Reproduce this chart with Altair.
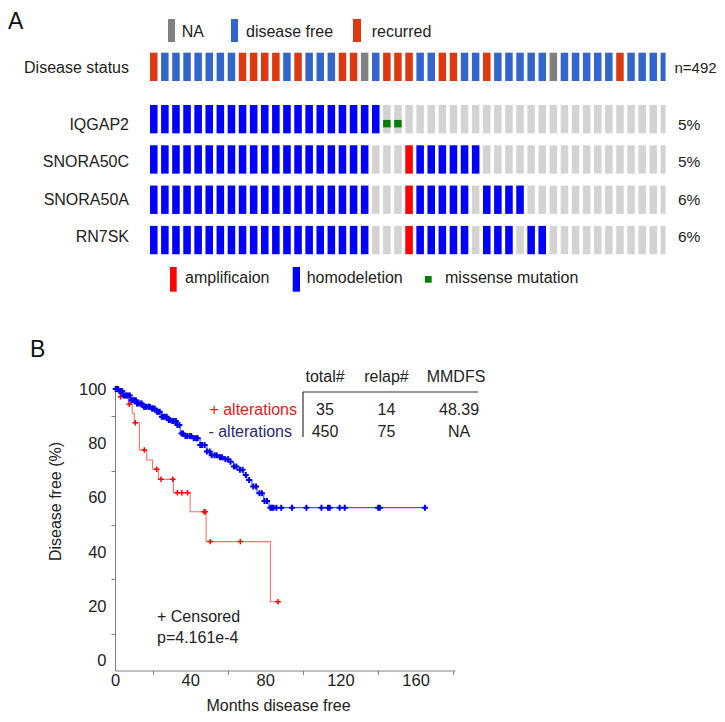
import altair as alt
import pandas as pd

FONT = "Liberation Sans"
TXT = "#222222"

# ---------------- Panel A : oncoprint data ----------------
disease_codes = ("R" "DDDDDDD" "RRRR" "D" "R" "DDD" "RR" "N" "D" "RRR" "DD" "RR" "DD"
                 "R" "DDDDD" "N" "DDDDD" "R" "DDDD")
status_name = {"R": "recurred", "D": "disease free", "N": "NA"}
status_domain = ["NA", "disease free", "recurred"]
status_colors = ["#808080", "#3366cc", "#dc3912"]
n_label = "n=492"

genes = ["IQGAP2", "SNORA50C", "SNORA50A", "RN7SK"]
gene_codes = {
    "IQGAP2":   "HHHHHHHHHH" "HHHHHHHHHH" "H" "MM" "........................",
    "SNORA50C": "HHHHHHHHHH" "HHHHHHHHHH" "..." "A" "HHHHHH" ".................",
    "SNORA50A": "HHHHHHHHHH" "HHHHHHHHHH" "..." "A" "HHHHH" "." "HHHH" ".............",
    "RN7SK":    "HHHHHHHHHH" "HHHHHHHHHH" "..." "A" "HHHHH" "." "HHH" "." "HH" "...........",
}
gene_pct = ["5%", "5%", "6%", "6%"]
alt_name = {"H": "homodeletion", "A": "amplificaion", "M": "missense mutation", ".": "none"}
alt_domain = ["amplificaion", "homodeletion"]
alt_colors = ["#ff0000", "#0000ff"]

for g in genes:
    assert len(gene_codes[g]) == len(disease_codes), (g, len(gene_codes[g]))

# ---------------- Panel B : Kaplan-Meier data ----------------
red_t = [0, 2.7, 7.1, 9.2, 10.3, 13.0, 16.9, 20.0, 23.1, 31.1, 40.0, 48.5, 82.7, 86.8]
red_s = [100, 97.2, 94.4, 91.1, 87.6, 77.6, 73.9, 70.5, 66.8, 61.9, 54.9, 43.9, 21.8, 21.8]
red_cens = [3.0, 7.6, 10.8, 15.6, 22.2, 24.5, 30.8, 33.2, 35.6, 38.6, 47.4, 48.0, 50.7, 66.7, 86.8]

blue_t = [0, 2.0, 4.4, 8.0, 11.6, 15.1, 18.7, 21.3, 24.9, 27.6, 30.2, 32.9, 34.7, 37.3,
          41.8, 45.3, 48.9, 50.7, 54.2, 57.8, 61.3, 63.1, 64.9, 68.4, 70.2, 72.9, 75.6,
          79.2, 82.0, 165.0]
blue_s = [100, 99.2, 97.6, 95.9, 94.7, 93.5, 92.9, 91.7, 89.8, 88.6, 88.3, 86.8, 83.7, 82.7,
          81.9, 79.4, 77.0, 75.7, 74.9, 74.2, 73.3, 71.5, 70.3, 68.4, 66.6, 64.2, 61.7,
          58.8, 56.4, 56.4]
blue_cens = [0.4, 1.1, 1.7, 2.4, 3.2, 3.9, 4.7, 5.6, 6.2, 7.0, 7.9, 8.7, 9.3, 10.2, 11.1,
             11.7, 12.6, 13.6, 14.2, 15.3, 16.0, 16.8, 17.9, 18.5, 19.6, 20.2, 21.1, 22.3,
             23.0, 23.8, 24.9, 25.6, 26.7, 27.5, 28.6, 29.4, 30.5, 31.3, 32.4, 33.2, 34.3,
             35.4, 36.2, 37.5, 38.4, 39.7, 40.6, 41.9, 43.1, 44.0, 45.4, 46.3, 47.7, 48.9,
             50.4, 51.5, 53.0, 54.1, 55.9, 57.0, 58.8, 60.2, 61.5, 63.3, 64.6, 66.5, 67.9,
             69.6, 71.4, 73.6, 75.1, 76.9, 78.2, 79.6, 80.9, 82.7, 83.6, 84.4, 85.9, 88.5,
             94.2, 101.9, 109.9, 113.4, 114.3, 119.6, 122.3, 140.1, 141.0, 165.0]

km_table_head = ["total#", "relap#", "MMDFS"]
km_row_plus = ["35", "14", "48.39"]
km_row_minus = ["450", "75", "NA"]


def surv_at(ts, ss, t):
    v = ss[0]
    for ti, si in zip(ts, ss):
        if ti <= t:
            v = si
    return v


# ---------------- helpers for text / decoration ----------------
def txt(s, x, y, size=16, color=TXT, align="left", baseline="middle"):
    return alt.Chart(pd.DataFrame({"s": [s]})).mark_text(
        align=align, baseline=baseline, fontSize=size, color=color, font=FONT
    ).encode(x=alt.value(x), y=alt.value(y), text="s:N")


def box(x1, y1, x2, y2, color):
    return alt.Chart(pd.DataFrame({"d": [0]})).mark_rect(color=color).encode(
        x=alt.value(x1), x2=alt.value(x2), y=alt.value(y1), y2=alt.value(y2))


def hline(x1, x2, y, color="#333333", w=1.2):
    return alt.Chart(pd.DataFrame({"d": [0]})).mark_rule(color=color, strokeWidth=w).encode(
        x=alt.value(x1), x2=alt.value(x2), y=alt.value(y))


def vline(x, y1, y2, color="#333333", w=1.2):
    return alt.Chart(pd.DataFrame({"d": [0]})).mark_rule(color=color, strokeWidth=w).encode(
        x=alt.value(x), y=alt.value(y1), y2=alt.value(y2))


# ---------------- Panel A charts ----------------
ncol = len(disease_codes)
disease_df = pd.DataFrame({"col": list(range(ncol)),
                           "status": [status_name[c] for c in disease_codes],
                           "row": ["Disease status"] * ncol})
cells_df = pd.DataFrame([{"gene": g, "col": i, "alt": alt_name[c]}
                         for g in genes for i, c in enumerate(gene_codes[g])])
gene_lab_df = pd.DataFrame({"gene": genes, "pct": gene_pct})
dis_lab_df = pd.DataFrame({"row": ["Disease status"], "n": [n_label]})

END = "min(datum.col + 0.676, 46.45)"
col_scale = alt.Scale(domain=[0, 47], range=[142, 663.7], nice=False, zero=False)
dis_scale = alt.Scale(domain=["Disease status"], range=[44.7, 73], paddingInner=0, paddingOuter=0)
gene_scale = alt.Scale(domain=genes, range=[97, 246.2], paddingInner=0.298, paddingOuter=0)

bx = alt.X("col:Q", scale=col_scale, axis=None)
bx2 = alt.X2("col_end:Q")

dis_rect = alt.Chart(disease_df).transform_calculate(col_end=END).mark_rect().encode(
    x=bx, x2=bx2, y=alt.Y("row:N", scale=dis_scale, axis=None),
    color=alt.Color("status:N", scale=alt.Scale(domain=status_domain, range=status_colors), legend=None))
dis_label = alt.Chart(dis_lab_df).mark_text(align="right", baseline="middle", fontSize=16, dy=1.5,
                                             color=TXT, font=FONT).encode(
    x=alt.value(121), y=alt.Y("row:N", scale=dis_scale, axis=None, bandPosition=0.5), text="row:N")
dis_n = alt.Chart(dis_lab_df).mark_text(align="left", baseline="middle", fontSize=15, dy=1.5,
                                         color=TXT, font=FONT).encode(
    x=alt.value(666.5), y=alt.Y("row:N", scale=dis_scale, axis=None, bandPosition=0.5), text="n:N")

gene_bg = alt.Chart(cells_df).transform_calculate(col_end=END).mark_rect(color="#d3d3d3").encode(
    x=bx, x2=bx2, y=alt.Y("gene:N", scale=gene_scale, axis=None))
gene_alt = alt.Chart(cells_df).transform_filter(
    "datum.alt == 'homodeletion' || datum.alt == 'amplificaion'"
).transform_calculate(col_end=END).mark_rect().encode(
    x=bx, x2=bx2, y=alt.Y("gene:N", scale=gene_scale, axis=None),
    color=alt.Color("alt:N", scale=alt.Scale(domain=alt_domain, range=alt_colors), legend=None))
gene_mut = alt.Chart(cells_df).transform_filter("datum.alt == 'missense mutation'").transform_calculate(
    col_mid="datum.col + 0.338").mark_square(size=56, color="#008000", opacity=1).encode(
    x=alt.X("col_mid:Q", scale=col_scale, axis=None),
    y=alt.Y("gene:N", scale=gene_scale, axis=None, bandPosition=0.5))
gene_label = alt.Chart(gene_lab_df).mark_text(align="right", baseline="middle", fontSize=16, dy=1.5,
                                               color=TXT, font=FONT).encode(
    x=alt.value(121), y=alt.Y("gene:N", scale=gene_scale, axis=None, bandPosition=0.5), text="gene:N")
gene_pct_t = alt.Chart(gene_lab_df).mark_text(align="left", baseline="middle", fontSize=15.5, dy=1.5,
                                               color=TXT, font=FONT).encode(
    x=alt.value(670), y=alt.Y("gene:N", scale=gene_scale, axis=None, bandPosition=0.5), text="pct:N")

onco = alt.layer(dis_rect, dis_label, dis_n, gene_bg, gene_alt, gene_mut, gene_label, gene_pct_t
                 ).resolve_scale(y="independent", color="independent")

# ---------------- Panel B charts ----------------
xs = alt.Scale(domain=[0, 181], range=[107, 447], nice=False, zero=False)
ys = alt.Scale(domain=[-3.5, 101.5], range=[662.5, 377], nice=False, zero=False)

x_axis = alt.Axis(orient="bottom", offset=-43.5, values=list(range(0, 181, 20)),
                  labelExpr="datum.value % 40 == 0 ? datum.label : ''",
                  labelFlush=False, labelOverlap=False, tickSize=4, labelPadding=-2.5,
                  tickOpacity={"condition": {"test": "datum.value % 40 == 0", "value": 0}, "value": 1},
                  title="Months disease free", titleX=270, titleY=39.5, titleBaseline="alphabetic",
                  titleAlign="center", titleFontWeight="normal", titleFontSize=16,
                  labelFontSize=16.5, grid=False, domainColor="#808080", tickColor="#808080",
                  labelColor=TXT, titleColor=TXT, labelFont=FONT, titleFont=FONT)
y_axis = alt.Axis(orient="left", offset=-107, values=list(range(0, 101, 10)),
                  labelExpr="datum.value % 20 == 0 ? datum.label : ''",
                  labelFlush=False, labelOverlap=False, tickSize=4, labelPadding=5,
                  tickOpacity={"condition": {"test": "datum.value % 20 == 0", "value": 0}, "value": 1},
                  title="Disease free (%)", titleX=-60, titleY=493, titleAngle=-90,
                  titleBaseline="middle", titleAlign="center", titleFontWeight="normal",
                  titleFontSize=16, labelFontSize=16.5, grid=False, domainColor="#808080",
                  tickColor="#808080", labelColor=TXT, titleColor=TXT, labelFont=FONT, titleFont=FONT)

kx = alt.X("t:Q", scale=xs, axis=x_axis)
ky = alt.Y("s:Q", scale=ys, axis=y_axis)

PLUS = "M-1,0H1M0,-1V1"
red_df = pd.DataFrame({"t": red_t, "s": red_s})
blue_df = pd.DataFrame({"t": blue_t, "s": blue_s})
red_c_df = pd.DataFrame({"t": red_cens, "s": [surv_at(red_t, red_s, t) for t in red_cens]})
blue_c_df = pd.DataFrame({"t": blue_cens, "s": [surv_at(blue_t, blue_s, t) for t in blue_cens]})

red_line = alt.Chart(red_df).mark_line(interpolate="step-after", color="#ff7070", strokeWidth=1.1).encode(x=kx, y=ky)
red_pts = alt.Chart(red_c_df).mark_point(shape=PLUS, filled=False, size=30, strokeWidth=1.5,
                                          color="#ff0000", opacity=1).encode(x=kx, y=ky)
blue_line = alt.Chart(blue_df).mark_line(interpolate="step-after", color="#3a5cff", strokeWidth=1.1).encode(x=kx, y=ky)
blue_pts = alt.Chart(blue_c_df).mark_point(shape=PLUS, filled=False, size=36, strokeWidth=2,
                                           color="#0000ee", opacity=1).encode(x=kx, y=ky)

km = alt.layer(red_line, red_pts, blue_line, blue_pts)

# ---------------- annotations ----------------
annots = [
    txt("A", 0, 21, size=23, baseline="alphabetic", color="#111111"),
    txt("B", 22, 349, size=23, baseline="alphabetic", color="#111111"),
    # top legend
    box(160, 11, 167, 34, status_colors[0]), txt("NA", 173.7, 24),
    box(223, 11, 230, 34, status_colors[1]), txt("disease free", 238, 24),
    box(345, 11, 353, 34, status_colors[2]), txt("recurred", 363.7, 24),
    # bottom legend
    box(162, 259, 168.7, 283.7, alt_colors[0]), txt("amplificaion", 177, 270),
    box(284.7, 259, 292, 283.7, alt_colors[1]), txt("homodeletion", 298.7, 270),
    box(417, 268, 423.7, 274.7, "#008000"), txt("missense mutation", 437, 270),
    # KM table
    txt(km_table_head[0], 317, 369, align="center"),
    txt(km_table_head[1], 378.5, 369, align="center"),
    txt(km_table_head[2], 448, 369, align="center"),
    hline(295, 470, 384), vline(295, 384, 429),
    txt("+ alterations", 289, 402, align="right", color="#e32119"),
    txt("- alterations", 284, 423.5, align="right", color="#29287a"),
    txt(km_row_plus[0], 317, 402, align="center"),
    txt(km_row_plus[1], 378.5, 402, align="center"),
    txt(km_row_plus[2], 451, 402, align="center"),
    txt(km_row_minus[0], 317, 423.5, align="center"),
    txt(km_row_minus[1], 378.5, 423.5, align="center"),
    txt(km_row_minus[2], 451, 423.5, align="center"),
    txt("+ Censored", 149, 609),
    txt("p=4.161e-4", 149, 630),
]

chart = alt.layer(onco, km, *annots).resolve_scale(
    x="independent", y="independent", color="independent"
).properties(
    width=709, height=706, padding=0, autosize=alt.AutoSizeParams(type="none")
).configure(font=FONT).configure_view(stroke=None)

chart.save("out.html", embed_options={"renderer": "svg", "actions": False})
